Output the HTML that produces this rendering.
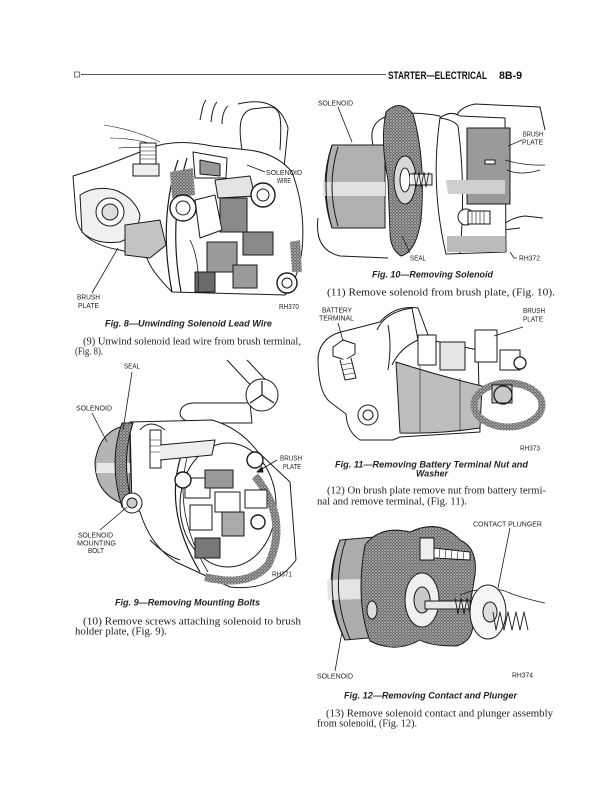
<!DOCTYPE html>
<html>
<head>
<meta charset="utf-8">
<style>
html,body{margin:0;padding:0;background:#fff;}
svg{display:block;}
.lb{font-family:"Liberation Sans",sans-serif;font-size:7px;fill:#222;}
.cap{font-family:"Liberation Sans",sans-serif;font-size:9.5px;font-weight:bold;font-style:italic;fill:#222;}
.bd{font-family:"Liberation Serif",serif;font-size:10.5px;fill:#222;}
.hd{font-family:"Liberation Sans Narrow","Liberation Sans",sans-serif;font-size:11px;font-weight:bold;fill:#111;}
</style>
</head>
<body>
<svg width="612" height="791" viewBox="0 0 612 791" xmlns="http://www.w3.org/2000/svg">
<defs>
<pattern id="st" width="3" height="3" patternUnits="userSpaceOnUse">
<rect width="3" height="3" fill="#6a6a6a"/><circle cx="1" cy="1" r="0.8" fill="#d8d8d8"/><circle cx="2.5" cy="2.4" r="0.5" fill="#bbb"/>
</pattern>
</defs>
<rect width="612" height="791" fill="#fff"/>

<!-- HEADER -->
<rect x="74.5" y="72" width="5" height="5" fill="none" stroke="#555" stroke-width="0.8"/>
<line x1="81" y1="74.5" x2="386" y2="74.5" stroke="#555" stroke-width="1"/>
<text class="hd" x="388" y="79" textLength="99" lengthAdjust="spacingAndGlyphs">STARTER—ELECTRICAL</text>
<text class="hd" x="499" y="79" textLength="23" lengthAdjust="spacingAndGlyphs">8B-9</text>

<!-- ================= FIG 8 ================= -->
<g stroke="#1a1a1a" stroke-width="1" fill="none" stroke-linejoin="round">
 <path d="M200,120 C202,110 203,104 206,100 M211,122 C212,112 214,105 217,102 M222,124 C222,115 225,108 228,106"/>
 <path d="M238,104 Q278,94 288,128 L284,168"/>
 <path d="M242,150 C238,125 240,112 252,109 L270,107 C281,108 282,118 280,150" fill="#fff"/>
 <path d="M104,125 Q135,130 160,142 M110,138 Q135,138 158,146 M118,148 Q140,146 160,150" stroke-width="0.6"/>
 <path d="M73,176 C100,168 125,158 150,148 C172,140 192,142 212,146 L248,150 C268,152 282,160 292,172 Q306,210 302,250 Q298,280 285,295 L172,292 C160,280 150,268 147,258 L120,250 C95,246 78,236 76,215 Z" fill="#fff"/>
 <path d="M80,195 Q95,185 115,190 Q135,198 140,215 Q138,235 120,242 Q95,245 82,232 Z" fill="#f1f1f1"/>
 <circle cx="110" cy="212" r="14" fill="#fff"/>
 <circle cx="110" cy="212" r="8" fill="#ddd"/>
 <rect x="140" y="143" width="16" height="22" fill="#fff"/>
 <path d="M140,147 H156 M140,151 H156 M140,155 H156 M140,159 H156" stroke-width="0.6"/>
 <rect x="133" y="164" width="26" height="12" fill="#eee"/>
 <path d="M125,225 L160,220 L166,245 L150,258 L125,255 Z" fill="#c4c4c4"/>
 <path d="M178,160 Q158,220 172,292 M187,158 Q168,220 181,292" stroke-width="1.2"/>
 <path d="M170,172 L193,168 L195,195 L172,198 Z" fill="url(#st)" stroke="none"/>
 <path d="M193,152 L227,158 L226,178 L195,178 Z" fill="#fff"/>
 <path d="M200,160 L220,164 L220,176 L200,174 Z" fill="#999"/>
 <rect x="220" y="198" width="27" height="34" fill="#8a8a8a"/>
 <rect x="207" y="242" width="30" height="30" fill="#9a9a9a"/>
 <rect x="243" y="232" width="30" height="23" fill="#8a8a8a"/>
 <rect x="233" y="265" width="24" height="23" fill="#9a9a9a"/>
 <rect x="195" y="272" width="20" height="20" fill="#6a6a6a"/>
 <path d="M195,200 L215,195 L222,230 L200,238 Z" fill="#fff"/>
 <path d="M215,180 L250,176 L255,196 L218,198 Z" fill="#e4e4e4"/>
 <circle cx="183" cy="208" r="13" fill="#fff" stroke-width="1.4"/>
 <circle cx="183" cy="208" r="7"/>
 <circle cx="263" cy="195" r="12" fill="#fff" stroke-width="1.4"/>
 <circle cx="263" cy="195" r="6"/>
 <circle cx="287" cy="283" r="10" fill="#fff" stroke-width="1.4"/>
 <circle cx="287" cy="283" r="5"/>
 <path d="M290,242 L300,240 L302,272 L292,272 Z" fill="url(#st)" stroke="none"/>
 <path d="M190,240 Q200,260 198,292" stroke-width="0.8"/>
 <line x1="265" y1="172" x2="247" y2="165" stroke-width="0.8"/>
 <line x1="92" y1="293" x2="118" y2="248" stroke-width="0.8"/>
</g>
<text class="lb" x="266" y="175" textLength="36" lengthAdjust="spacingAndGlyphs">SOLENOID</text>
<text class="lb" x="277" y="183" textLength="14" lengthAdjust="spacingAndGlyphs">WIRE</text>
<text class="lb" x="77" y="299.5" textLength="23" lengthAdjust="spacingAndGlyphs">BRUSH</text>
<text class="lb" x="78" y="308" textLength="21" lengthAdjust="spacingAndGlyphs">PLATE</text>
<text class="lb" x="279" y="309" textLength="20" lengthAdjust="spacingAndGlyphs">RH370</text>

<text class="cap" x="105" y="326.5" textLength="167" lengthAdjust="spacingAndGlyphs">Fig. 8—Unwinding Solenoid Lead Wire</text>
<text class="bd" x="83" y="344.5" textLength="218" lengthAdjust="spacingAndGlyphs">(9) Unwind solenoid lead wire from brush terminal,</text>
<text class="bd" x="75" y="354.5" textLength="28" lengthAdjust="spacingAndGlyphs">(Fig. 8).</text>

<!-- ================= FIG 9 ================= -->
<g stroke="#1a1a1a" stroke-width="1" fill="none" stroke-linejoin="round">
 <path d="M227,360 L257,392 M247,360 L277,392" />
 <path d="M193,403 L250,403 L252,423 L193,423 Q180,420 180,413 Q181,404 193,403 Z" fill="#fff"/>
 <circle cx="262" cy="395" r="16" fill="#fff"/>
 <path d="M262,395 L262,381 M262,395 L250,403 M262,395 L274,403" stroke-width="1.2"/>
 <path d="M130,425 Q100,428 95,462 Q95,497 130,506 Z" fill="#b4b4b4"/>
 <path d="M97,463 L130,463 L130,473 L96,473 Z" fill="#e8e8e8" stroke="none"/>
 <path d="M130,422 L212,420 Q240,428 258,452 L290,482 L296,560 Q272,592 230,587 L176,562 Q150,545 140,512 L132,506 Z" fill="#fff"/>
 <path d="M122,423 Q108,462 122,507 L133,507 Q120,462 133,423 Z" fill="url(#st)"/>
 <path d="M185,445 Q160,505 200,572" stroke-width="1.2"/>
 <path d="M192,442 Q168,505 208,572" stroke-width="0.8"/>
 <ellipse cx="228" cy="505" rx="48" ry="62"/>
 <path d="M255,476 Q290,520 268,565 Q248,588 205,577" stroke="url(#st)" stroke-width="8"/>
 <circle cx="132" cy="503" r="10" fill="#fff"/>
 <circle cx="132" cy="503" r="5" fill="#ccc"/>
 <rect x="150" y="430" width="11" height="38" fill="#fff"/>
 <path d="M150,440 H161 M150,446 H161 M150,452 H161" stroke-width="0.6"/>
 <path d="M140,430 Q150,418 165,430" />
 <path d="M160,445 L215,440 L212,455 L160,460" fill="#eee"/>
 <rect x="185" y="478" width="25" height="20" fill="#fff"/>
 <rect x="205" y="470" width="28" height="18" fill="#999"/>
 <rect x="215" y="492" width="25" height="20" fill="#fff"/>
 <rect x="222" y="512" width="22" height="24" fill="#aaa"/>
 <rect x="190" y="505" width="22" height="25" fill="#fff"/>
 <rect x="245" y="490" width="22" height="18" fill="#fff"/>
 <rect x="195" y="538" width="25" height="20" fill="#777"/>
 <circle cx="255" cy="460" r="8" fill="#fff" stroke-width="1.4"/>
 <circle cx="258" cy="522" r="7" fill="#fff" stroke-width="1.4"/>
 <circle cx="183" cy="480" r="8" fill="#fff" stroke-width="1.4"/>
 <path d="M150,540 Q165,555 180,560" />
 <line x1="132" y1="372" x2="123" y2="430" stroke-width="0.8"/>
 <line x1="92" y1="413" x2="107" y2="442" stroke-width="0.8"/>
 <line x1="277" y1="460" x2="257" y2="472" stroke-width="0.8"/>
 <path d="M257,472 L262,467 L263,472 Z" fill="#1a1a1a"/>
 <line x1="100" y1="530" x2="127" y2="507" stroke-width="0.8"/>
</g>
<text class="lb" x="124" y="368.5" textLength="16" lengthAdjust="spacingAndGlyphs">SEAL</text>
<text class="lb" x="76" y="410.5" textLength="36" lengthAdjust="spacingAndGlyphs">SOLENOID</text>
<text class="lb" x="280" y="460.5" textLength="22" lengthAdjust="spacingAndGlyphs">BRUSH</text>
<text class="lb" x="283" y="469" textLength="18" lengthAdjust="spacingAndGlyphs">PLATE</text>
<text class="lb" x="78" y="537.5" textLength="35" lengthAdjust="spacingAndGlyphs">SOLENOID</text>
<text class="lb" x="77" y="545.5" textLength="39" lengthAdjust="spacingAndGlyphs">MOUNTING</text>
<text class="lb" x="88" y="553" textLength="16" lengthAdjust="spacingAndGlyphs">BOLT</text>
<text class="lb" x="272" y="576.5" textLength="20" lengthAdjust="spacingAndGlyphs">RH371</text>

<text class="cap" x="115" y="605.5" textLength="145" lengthAdjust="spacingAndGlyphs">Fig. 9—Removing Mounting Bolts</text>
<text class="bd" x="83" y="624.5" textLength="218" lengthAdjust="spacingAndGlyphs">(10) Remove screws attaching solenoid to brush</text>
<text class="bd" x="75" y="634.5" textLength="92" lengthAdjust="spacingAndGlyphs">holder plate, (Fig. 9).</text>

<!-- ================= FIG 10 ================= -->
<g stroke="#1a1a1a" stroke-width="1" fill="none" stroke-linejoin="round">
 <path d="M373,145 Q368,124 385,117 Q410,110 440,116 L444,140" fill="#fff"/>
 <path d="M455,125 Q454,108 475,104 L540,107 L545,130"/>
 <path d="M318,218 Q314,250 340,256 L388,258"/>
 <path d="M483,250 Q500,218 525,216 L543,218 M485,232 L520,228"/>
 <path d="M332,145 L385,145 L385,228 L332,228 Q318,186 332,145 Z" fill="#b0b0b0"/>
 <path d="M323,182 L385,182 L385,196 L323,196 Z" fill="#e2e2e2" stroke="none"/>
 <path d="M332,145 Q320,186 332,228 M338,147 Q326,186 338,226" />
 <path d="M386,112 Q400,98 413,114 Q426,160 421,220 Q416,252 401,256 Q390,249 390,232 L388,180 Q380,140 386,112 Z" fill="url(#st)"/>
 <ellipse cx="405" cy="180" rx="11" ry="24" fill="#d8d8d8"/>
 <ellipse cx="405" cy="180" rx="5" ry="12" fill="#fff"/>
 <path d="M410,174 L432,174 L432,185 L410,185" fill="#eee"/>
 <path d="M414,172 L416,187 L419,172 L421,187 L424,172 L426,187 L429,172" stroke-width="0.8"/>
 <path d="M440,118 Q450,110 460,116 L505,118 L506,252 L446,254 Q430,186 440,118 Z" fill="#fff"/>
 <path d="M440,118 Q454,120 458,126 Q466,186 460,254" />
 <rect x="467" y="128" width="43" height="76" fill="#9a9a9a"/>
 <path d="M446,180 L505,180 L505,194 L448,194 Z" fill="#cfcfcf" stroke="none"/>
 <path d="M447,236 L505,236 L505,252 L447,252 Z" fill="#bbb" stroke="none"/>
 <circle cx="466" cy="217" r="8" fill="#fff"/>
 <rect x="468" y="211" width="22" height="13" fill="#fff"/>
 <path d="M472,211 V224 M476,211 V224 M480,211 V224 M484,211 V224" stroke-width="0.6"/>
 <path d="M505,160 Q525,166 545,165 M507,170 Q520,176 540,170" stroke-width="0.8"/>
 <rect x="485" y="160" width="10" height="4" fill="#fff"/>
 <line x1="338" y1="107" x2="352" y2="142" stroke-width="0.8"/>
 <line x1="522" y1="140" x2="508" y2="146" stroke-width="0.8"/>
 <line x1="410" y1="253" x2="402" y2="236" stroke-width="0.8"/>
 <path d="M510,252 L514,258 L517,258" stroke-width="0.8"/>
</g>
<text class="lb" x="318" y="105.5" textLength="35" lengthAdjust="spacingAndGlyphs">SOLENOID</text>
<text class="lb" x="523" y="136.5" textLength="20" lengthAdjust="spacingAndGlyphs">BRUSH</text>
<text class="lb" x="522" y="144.5" textLength="21" lengthAdjust="spacingAndGlyphs">PLATE</text>
<text class="lb" x="410" y="260.5" textLength="16" lengthAdjust="spacingAndGlyphs">SEAL</text>
<text class="lb" x="519" y="260.5" textLength="21" lengthAdjust="spacingAndGlyphs">RH372</text>

<text class="cap" x="372" y="277.5" textLength="121" lengthAdjust="spacingAndGlyphs">Fig. 10—Removing Solenoid</text>
<text class="bd" x="327" y="295.5" textLength="228" lengthAdjust="spacingAndGlyphs">(11) Remove solenoid from brush plate, (Fig. 10).</text>

<!-- ================= FIG 11 ================= -->
<g stroke="#1a1a1a" stroke-width="1" fill="none" stroke-linejoin="round">
 <path d="M318,358 Q320,336 345,331 L380,322 Q395,305 418,308 L430,340 L478,350 L480,432 L400,437 L393,440 L360,440 Q347,432 346,414 L330,402 Q318,392 318,358 Z" fill="#fff"/>
 <path d="M377,330 Q385,312 412,308 L418,340 Q400,348 392,365" fill="#fff"/>
 <path d="M388,325 Q392,345 388,370" fill="none"/>
 <path d="M396,362 Q440,376 482,386 L480,428 Q440,434 400,433 Z" fill="#bdbdbd"/>
 <path d="M420,366 L420,432 M460,378 L460,430" stroke-width="0.6"/>
 <ellipse cx="508" cy="405" rx="34" ry="22" stroke="url(#st)" stroke-width="7"/>
 <circle cx="368" cy="415" r="10" fill="#fff"/>
 <circle cx="368" cy="415" r="5"/>
 <path d="M333,347 L343,340 L355,344 L355,354 L345,360 L333,356 Z" fill="#fff"/>
 <path d="M340,360 L345,380 L356,378 L351,358" fill="#fff"/>
 <path d="M341,365 L352,363 M342,370 L353,368 M343,375 L355,373" stroke-width="0.6"/>
 <rect x="418" y="335" width="18" height="30" fill="#fff"/>
 <rect x="440" y="342" width="25" height="28" fill="#e6e6e6"/>
 <rect x="475" y="330" width="22" height="32" fill="#fff"/>
 <rect x="500" y="350" width="20" height="20" fill="#fff"/>
 <rect x="492" y="385" width="20" height="18" fill="#c8c8c8"/>
 <circle cx="503" cy="395" r="9" fill="none" stroke-width="1.3"/>
 <circle cx="520" cy="363" r="6" fill="#fff" stroke-width="1.3"/>
 <line x1="338" y1="323" x2="343" y2="341" stroke-width="0.8"/>
 <line x1="523" y1="327" x2="494" y2="336" stroke-width="0.8"/>
</g>
<text class="lb" x="322" y="312.5" textLength="30" lengthAdjust="spacingAndGlyphs">BATTERY</text>
<text class="lb" x="319" y="320.5" textLength="35" lengthAdjust="spacingAndGlyphs">TERMINAL</text>
<text class="lb" x="523" y="313" textLength="22" lengthAdjust="spacingAndGlyphs">BRUSH</text>
<text class="lb" x="523" y="321.5" textLength="20" lengthAdjust="spacingAndGlyphs">PLATE</text>
<text class="lb" x="520" y="450.5" textLength="20" lengthAdjust="spacingAndGlyphs">RH373</text>

<text class="cap" x="335" y="467.5" textLength="193" lengthAdjust="spacingAndGlyphs">Fig. 11—Removing Battery Terminal Nut and</text>
<text class="cap" x="416" y="476.5" textLength="32" lengthAdjust="spacingAndGlyphs">Washer</text>
<text class="bd" x="327" y="493.5" textLength="219" lengthAdjust="spacingAndGlyphs">(12) On brush plate remove nut from battery termi-</text>
<text class="bd" x="317" y="504.5" textLength="150" lengthAdjust="spacingAndGlyphs">nal and remove terminal, (Fig. 11).</text>

<!-- ================= FIG 12 ================= -->
<text class="lb" x="473" y="526.5" textLength="69" lengthAdjust="spacingAndGlyphs">CONTACT PLUNGER</text>
<g stroke="#1a1a1a" stroke-width="1" fill="none" stroke-linejoin="round">
 <path d="M340,540 L398,535 L402,635 L345,640 Q320,590 340,540 Z" fill="#acacac"/>
 <path d="M327,580 L400,578 L400,598 L328,600 Z" fill="#e4e4e4" stroke="none"/>
 <path d="M340,540 Q322,590 345,640 M346,539 Q329,590 350,639"/>
 <path d="M365,545 Q380,525 410,532 Q440,518 460,540 Q478,548 475,575 L470,605 Q480,640 456,646 Q430,646 420,640 Q395,654 370,641 Q355,600 365,545 Z" fill="url(#st)"/>
 <ellipse cx="372" cy="610" rx="5" ry="9" fill="#ddd"/>
 <ellipse cx="422" cy="600" rx="17" ry="27" fill="#f0f0f0"/>
 <ellipse cx="422" cy="600" rx="8" ry="13" fill="#c8c8c8"/>
 <rect x="425" y="601" width="45" height="8" fill="#e8e8e8"/>
 <path d="M455,598 L458,614 L461,598 L464,614 L467,598 L470,614 L473,598" stroke-width="0.9"/>
 <path d="M460,595 Q490,583 512,594 Q530,600 545,603" stroke-width="0.8"/>
 <ellipse cx="488" cy="612" rx="18" ry="27" fill="#f6f6f6"/>
 <ellipse cx="490" cy="612" rx="7" ry="10" fill="#ddd"/>
 <path d="M493,612 L496,630 L500,612 L504,630 L508,612 L512,630 L516,612 L520,630 L524,612 L528,630" stroke-width="0.9"/>
 <rect x="420" y="538" width="14" height="22" fill="#eee"/>
 <path d="M434,548 L470,552 L470,560 L434,558 Z" fill="#fff"/>
 <path d="M440,548 L439,558 M446,549 L445,559 M452,550 L451,559 M458,551 L457,560 M464,551 L463,560" stroke-width="0.6"/>
 <line x1="510" y1="528" x2="498" y2="588" stroke-width="0.8"/>
 <line x1="335" y1="671" x2="342" y2="632" stroke-width="0.8"/>
</g>
<text class="lb" x="317" y="678.5" textLength="36" lengthAdjust="spacingAndGlyphs">SOLENOID</text>
<text class="lb" x="512" y="677.5" textLength="21" lengthAdjust="spacingAndGlyphs">RH374</text>

<text class="cap" x="344" y="698.5" textLength="173" lengthAdjust="spacingAndGlyphs">Fig. 12—Removing Contact and Plunger</text>
<text class="bd" x="326" y="716.5" textLength="227" lengthAdjust="spacingAndGlyphs">(13) Remove solenoid contact and plunger assembly</text>
<text class="bd" x="317" y="726.5" textLength="100" lengthAdjust="spacingAndGlyphs">from solenoid, (Fig. 12).</text>
</svg>
</body>
</html>
